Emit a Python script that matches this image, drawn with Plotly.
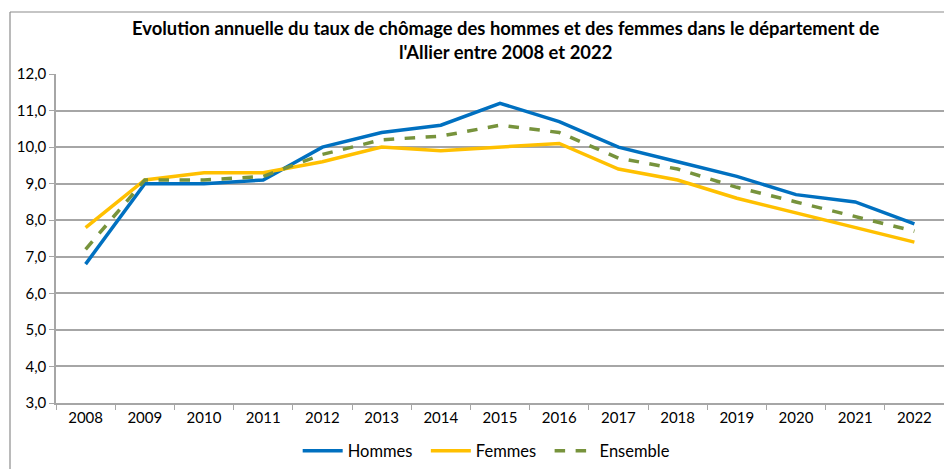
import plotly.graph_objects as go

# Données
annees = [str(a) for a in range(2008, 2023)]
hommes = [6.8, 9.0, 9.0, 9.1, 10.0, 10.4, 10.6, 11.2, 10.7, 10.0, 9.6, 9.2, 8.7, 8.5, 7.9]
femmes = [7.8, 9.1, 9.3, 9.3, 9.6, 10.0, 9.9, 10.0, 10.1, 9.4, 9.1, 8.6, 8.2, 7.8, 7.4]
ensemble = [7.2, 9.1, 9.1, 9.2, 9.8, 10.2, 10.3, 10.6, 10.4, 9.7, 9.4, 8.9, 8.5, 8.1, 7.7]
y_ticks = [3, 4, 5, 6, 7, 8, 9, 10, 11, 12]

FONT = "Lato, Open Sans, sans-serif"
GRID = "#A6A6A6"
PAD = "\u00a0\u00a0"  # un peu d'espace entre les entrées de légende

fig = go.Figure()
fig.add_trace(go.Scatter(x=annees, y=hommes, name="Hommes" + PAD, mode="lines",
                         line=dict(color="#0070C0", width=3.5)))
fig.add_trace(go.Scatter(x=annees, y=femmes, name="Femmes" + PAD, mode="lines",
                         line=dict(color="#FFC000", width=3.5)))
fig.add_trace(go.Scatter(x=annees, y=ensemble, name="Ensemble", mode="lines",
                         line=dict(color="#77933C", width=3.5, dash="dash")))

# marges : zone de tracé 56..944 px en x, 74..403 px en y
L, R, T, B = 56, 0, 74, 66
W, H = 944, 469
pw, ph = W - L - R, H - T - B

def px(x):
	return (x - L) / pw

def py(y):
	return (H - B - y) / ph

fig.update_layout(
	width=W, height=H,
	margin=dict(l=L, r=R, t=T, b=B, autoexpand=False),
	paper_bgcolor="white", plot_bgcolor="white",
	separators=", ",
	font=dict(family=FONT, size=15, color="#000000"),
	showlegend=True,
	legend=dict(orientation="h", x=0.485, xanchor="center", y=py(451), yanchor="middle",
				font=dict(family=FONT, size=16.5), itemwidth=40, bgcolor="rgba(0,0,0,0)"),
	xaxis=dict(
		type="category", range=[-0.5, 14.5],
		showgrid=False, showline=True, linecolor=GRID, linewidth=1.5,
		ticks="outside", tickson="boundaries", ticklen=5, tickcolor=GRID,
		tickfont=dict(family=FONT, size=15), fixedrange=True,
	),
	yaxis=dict(
		range=[3, 12], tickvals=y_ticks, tickformat=".1f",
		showgrid=True, gridcolor=GRID, gridwidth=1.5,
		showline=True, linecolor=GRID, linewidth=1.5,
		ticks="outside", ticklen=5, tickcolor=GRID,
		tickfont=dict(family=FONT, size=15), zeroline=False,
	),
	annotations=[
		dict(text="<b>Evolution annuelle du taux de chômage des hommes et des femmes dans le département de<br>l'Allier entre 2008 et 2022</b>",
			 xref="paper", yref="paper", x=px(505), y=py(15), xanchor="center", yanchor="top",
			 showarrow=False, align="center",
			 font=dict(family=FONT, size=18.4, color="#000000")),
	],
	shapes=[
		dict(type="line", xref="paper", yref="paper", x0=px(10), x1=px(960), y0=py(12), y1=py(12),
			 line=dict(color="#8C8C8C", width=1.2)),
		dict(type="line", xref="paper", yref="paper", x0=px(10), x1=px(10), y0=py(12), y1=py(480),
			 line=dict(color="#8C8C8C", width=1.2)),
	],
)

fig.write_html("out.html", config={"displayModeBar": False},
			   post_script="document.body.style.margin='0';")
